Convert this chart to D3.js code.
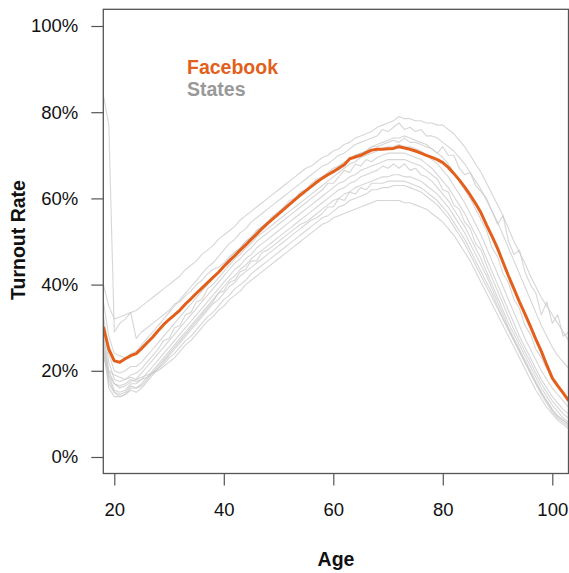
<!DOCTYPE html>
<html><head><meta charset="utf-8">
<script src="https://cdn.jsdelivr.net/npm/d3@7"></script>
<style>body{margin:0;background:#fff}svg{display:block}text{font-family:"Liberation Sans",Arial,Helvetica,sans-serif}</style>
</head><body>
<script>
const startAge = 18;
const xTicks = [20, 40, 60, 80, 100];
const yTicks = [0, 20, 40, 60, 80, 100];
const facebook = [30.2,25,22.3,22,22.8,23.5,24,25.2,26.5,27.8,
29.3,30.7,31.9,33,34.1,35.5,36.7,38,39.2,40.4,
41.6,42.8,44.2,45.5,46.7,48,49.2,50.5,51.7,53,
54.2,55.3,56.4,57.5,58.6,59.7,60.8,61.8,62.8,63.8,
64.7,65.5,66.2,67,67.8,69.2,69.6,70,70.6,71.2,
71.4,71.4,71.5,71.6,72,71.7,71.4,71,70.5,70,
69.5,69,68.3,67.2,65.8,64.3,62.6,60.8,58.8,56.6,
53.8,51.2,48.4,45.2,42,39,36,33.2,30.3,27.3,
24.5,21.3,18.3,16.5,14.8,13];
const states = [
[84,77,29,31,32,33.5,27.5,29,30,31, 32,33,34,35.5,36,37.5,38.5,40,41,42.5, 43.5,44,45,46.5,47.5,48.5,50,51,52.5,53.5, 54.5,56,57,58,59.5,60,61.5,62,63.5,64.5, 65,66,67,67.5,68.5,69,70,70.5,71,72, 72,72.5,73,73.5,73,74,73,73,72.5,72, 71.5,70.5,72,70,70,67,65.5,66,63,61.5, 60,57,54,56,50,47,48,43,40,38, 33,36,31,33,28,29],
[40,35,32,32.5,33,33.5,34,35,36,37, 38,39,40,41,42,43.5,44.5,45.5,47,48, 49,50.5,51.5,52.5,53.5,55,56,57,58,59, 60,61,62,63,64,65,66,67,67.5,68.5, 69.5,70,71,71.5,72.5,73,74,74.5,75,75.5, 76.5,77,77.5,78,79,78.5,78.5,78,78,77.5, 77.5,77,77,76,75,73.5,72,70,68,66, 63.5,61,58.5,56,53,50,47.5,45,42,39.5, 37,35,33,31,29,27],
[36,28,24,23.5,23,24,24.5,26,27.5,29, 30.5,32,33.5,35,36.5,38,39.5,41,42.5,44, 45,46.5,48,49.5,50.5,52,53,54.5,55.5,56.5, 57.5,58.5,59.5,60.5,61.5,62.5,63.5,64.5,65.5,66.5, 67.5,68,69,70,70.5,71.5,72.5,73,73.5,74, 74.5,76,75.5,76.5,77.5,76,76.5,75.5,76,74.5, 74.5,74,73,72,71,69.5,68,66,64,62, 59.5,57,54.5,51.5,48.5,45.5,42.5,39.5,36.5,33.5, 30.5,28,25.5,23.5,22,20.5],
[33,24,20,19.5,20,21,21,22,23.5,25, 26.5,28,29.5,31,32.5,34,35.5,37,38.5,40, 41.5,43,44.5,46,47.5,48.5,50,51,52.5,53.5, 54.5,55.5,56.5,57.5,58.5,59.5,60.5,61.5,62.5,63.5, 64.5,65.5,66.5,67.5,68,69,70,70.5,71,72, 72.5,73,73.5,74,74,74.5,74,73.5,73,72.5, 71.5,70.5,69.5,68,66,64,62,60,57.5,55, 52.5,48.5,46.5,42.5,40.5,36.5,34.5,30.5,28.5,25, 23,20.5,18.5,16.5,15,13.5],
[31,22,18,17.5,18,19,19.5,20.5,22,23.5, 25,27,27.5,30,30.5,33,33.5,36,36.5,39, 40,41.5,43,44.5,46,47,48.5,49.5,51,52, 53,54,55,56,57,58,59,60,61,62, 63,64,65,66,67,68,68.5,69.5,70,70.5, 71,71.5,72,72,72.5,72,72,71.5,71,70, 69,68,66.5,65,63,61,59,56.5,54,51.5, 48.5,45.5,42.5,39.5,36.5,33.5,30.5,27.5,25,22.5, 20,18,16,14.5,13,11.5],
[29,20,17,16,16.5,17.5,18,19.5,21,22.5, 24,25.5,27,28.5,30,31.5,33,34.5,36,37.5, 39,40.5,42,43.5,45,46,47.5,48.5,50,51, 52,53,54,55,56,57,58,59,60,61, 62,63.5,63.5,65,66.5,66,68,67.5,69,68.5, 69.5,70,70.5,70.5,70.5,70.5,70,69.5,69,68, 67,65.5,64,62.5,60.5,58.5,56.5,54,51.5,49, 46,43,40,37,34,31,28,25.5,23,20.5, 18,16,14,12.5,11,10],
[28,19,15.5,15,15.5,17,17,18,19.5,21, 22.5,24,25.5,27,28.5,30,31.5,33,34.5,36, 37.5,39,40.5,42,43.5,44.5,46,47,48.5,49.5, 50.5,51.5,52.5,53.5,54.5,55.5,56.5,57.5,58.5,59.5, 60.5,61.5,62.5,63.5,64,65,65.5,66.5,67,67.5, 68,68.5,69,69,69,69,68.5,68,67.5,66.5, 65.5,64.5,62,61.5,58.5,57.5,54.5,53,49.5,48, 44.5,41.5,38.5,35.5,32.5,29.5,27,24.5,22,19.5, 17,15,13,11.5,10,9],
[27,18,15,14,14.5,16,16,17,18.5,20, 21.5,23,24.5,26,27.5,29,30.5,32,33.5,35, 36.5,38,39.5,41,42,43.5,44.5,46,47,48, 49,50,51,52,53,54,55,56,57,58, 59,60,61,62,62.5,63.5,64,65,65.5,66, 66.5,67.5,67,68,67,68,66.5,67,65.5,65, 64,62.5,61,59.5,57.5,55.5,53.5,51,48.5,46, 43,40,37,34,31,28.5,26,23.5,21,18.5, 16,14,12,10.5,9,8],
[26,17,15,14.5,15,16.5,16,16.5,18,19.5, 21,22.5,24,25.5,27,28.5,30,31.5,33,34.5, 36,38,38.5,40.5,41,43,43.5,45.5,45.5,47.5, 48,49,50,51,52,53,54,54.5,55.5,56.5, 57.5,58.5,59.5,60,61,61.5,62.5,63,63.5,64, 64.5,65,65,65.5,65.5,65,65,64.5,64,63, 62,61,59.5,58,56,54,52,49.5,47,44.5, 42,39,36,33,30,27.5,25,22.5,20,17.5, 15,13,11,9.5,8.5,7.5],
[25,16,14,14,14.5,15.5,15,16,17.5,19, 20.5,22,23.5,25,26.5,28,29.5,31,32.5,34, 35.5,36.5,38,39.5,40.5,42,43,44,45,46, 47,48,49,50,51,52,53,54,55,55.5, 56.5,58,58,60,59.5,61.5,61,62.5,62,63.5, 63.5,63.5,64,64,64,64,63.5,63,62.5,61.5, 60.5,59.5,58,56.5,54.5,52.5,50.5,48,45.5,43, 40.5,38,35,32,29.5,27,24.5,22,19.5,17, 14.5,12.5,10.5,9,8,7],
[24,19,17,16.5,17,18,17.5,18,18.5,19.5, 20.5,21.5,23,24,25.5,27,28,29.5,31,32.5, 33.5,35,36.5,37.5,39,40,41,42.5,43.5,44.5, 45.5,46.5,47.5,48.5,49.5,50.5,51.5,52.5,53.5,54.5, 55.5,56,57,58,58.5,59.5,60,60.5,61,62, 62,62.5,62.5,63,63,63,62.5,62,61.5,60.5, 59.5,58.5,57,55.5,53.5,51.5,49.5,47,44.5,42, 39.5,37,34.5,32,29.5,27,24.5,22,19.5,17, 15,13,11,9.5,8.5,7.5],
[23,20,19,18.5,18,18.5,18,18.5,19,19.5, 20,21,22,23,24.5,26,27,28.5,30,31.5, 32.5,34,35,36.5,37.5,38.5,40,41,42,43, 44,45,46,47,48,49,50,51,52,53, 54,54.5,55.5,56,56.5,57,57.5,58,58.5,59, 59.5,59.5,59.5,59.5,59.5,59,59,58.5,58,57.5, 56.5,55.5,54.5,53,51.5,49.5,47.5,45.5,43,40.5, 38,35.5,33,30.5,28,25.5,23,20.5,18,15.5, 13.5,11.5,10,8.5,7.5,6.5]
];

const W = 569, H = 573;
const svg = d3.select("body").append("svg").attr("width", W).attr("height", H);
const box = {left: 103.3, right: 568.5, top: 9.3, bottom: 473.5};
const x = d3.scaleLinear().domain([20, 100]).range([114.3, 552.3]);
const y = d3.scaleLinear().domain([0, 100]).range([457, 26]);
const ages = facebook.map((d, i) => startAge + i);

svg.append("defs").append("clipPath").attr("id", "clip")
  .append("rect").attr("x", box.left).attr("y", box.top)
  .attr("width", box.right - box.left).attr("height", box.bottom - box.top);

const line = d3.line().x((d, i) => x(ages[i])).y(d => y(d));
const g = svg.append("g").attr("clip-path", "url(#clip)");
g.selectAll("path.state").data(states).join("path").attr("class", "state")
  .attr("d", line).attr("fill", "none").attr("stroke", "#c8c8c8")
  .attr("stroke-opacity", 0.75).attr("stroke-width", 1.1).attr("stroke-linejoin", "round");
g.append("path").datum(facebook).attr("d", line).attr("fill", "none")
  .attr("stroke", "#e35f1c").attr("stroke-width", 3).attr("stroke-linejoin", "round");

// box
svg.append("rect").attr("x", box.left).attr("y", box.top)
  .attr("width", box.right - box.left).attr("height", box.bottom - box.top)
  .attr("fill", "none").attr("stroke", "#555").attr("stroke-width", 1.3);

// y axis
const yAxis = d3.axisLeft(y).tickValues(yTicks).tickSize(12).tickPadding(13)
  .tickFormat(d => d + "%");
const ya = svg.append("g").attr("transform", `translate(${box.left},0)`).call(yAxis);
ya.select(".domain").remove();
ya.selectAll("line").attr("stroke", "#555").attr("stroke-width", 1.2);
ya.selectAll("text").attr("font-size", 18.5).attr("fill", "#111")
  .style("font-family", '"Liberation Sans", Arial, sans-serif');

// x axis
const xAxis = d3.axisBottom(x).tickValues(xTicks).tickSize(12).tickPadding(17);
const xa = svg.append("g").attr("transform", `translate(0,${box.bottom})`).call(xAxis);
xa.select(".domain").remove();
xa.selectAll("line").attr("stroke", "#555").attr("stroke-width", 1.2);
xa.selectAll("text").attr("font-size", 18.5).attr("fill", "#111")
  .style("font-family", '"Liberation Sans", Arial, sans-serif');

svg.append("text").attr("x", 336).attr("y", 566).attr("text-anchor", "middle")
  .attr("font-size", 19.5).attr("font-weight", "bold").attr("fill", "#111").text("Age");
svg.append("text").attr("transform", "translate(25,240) rotate(-90)").attr("text-anchor", "middle")
  .attr("font-size", 19.5).attr("font-weight", "bold").attr("fill", "#111").text("Turnout Rate");

svg.append("text").attr("x", 187).attr("y", 74).attr("font-size", 19.5)
  .attr("font-weight", "bold").attr("fill", "#e35f1c").text("Facebook");
svg.append("text").attr("x", 187).attr("y", 95.5).attr("font-size", 19.5)
  .attr("font-weight", "bold").attr("fill", "#999").text("States");
</script>
</body></html>
